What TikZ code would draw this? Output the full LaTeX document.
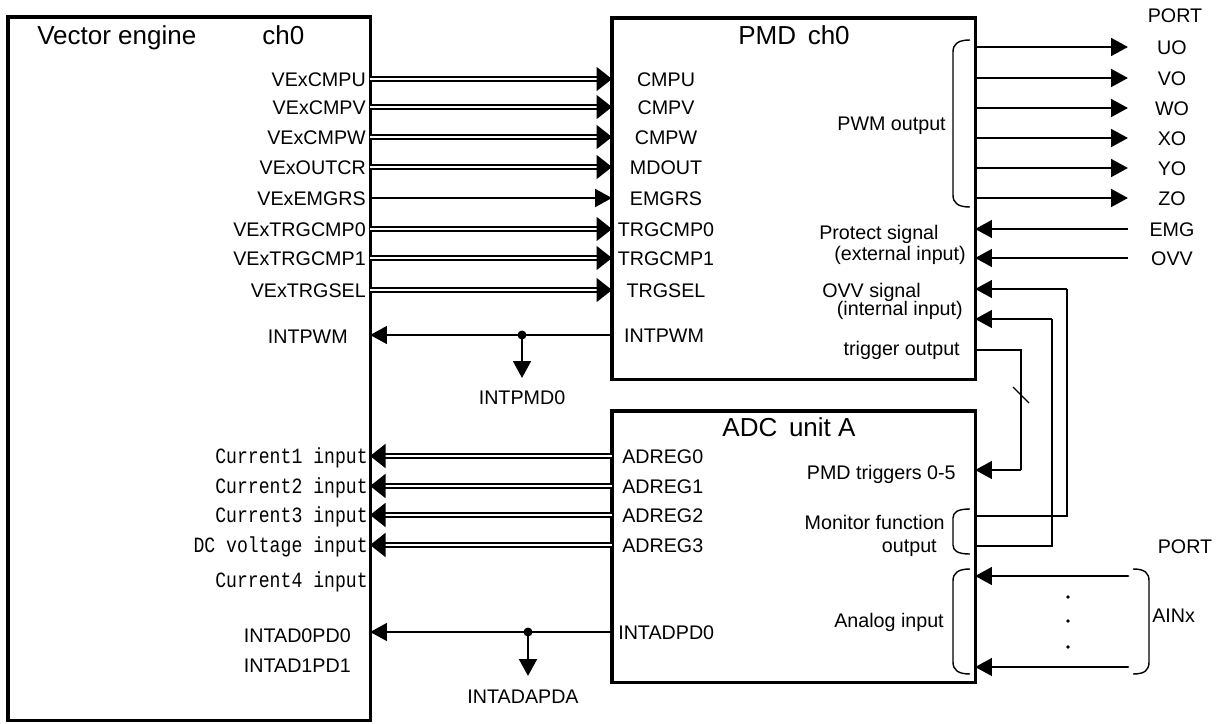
\documentclass[tikz,border=0pt]{standalone}
\usepackage{fontspec}
\setmainfont{Liberation Sans}
\setmonofont{Liberation Mono}
\usetikzlibrary{arrows.meta}

\tikzset{
  box/.style={draw,line width=2.2pt,inner sep=0pt,outer sep=0pt,anchor=north west},
  lbl/.style={inner sep=0pt,text height=10pt,text depth=0pt,font=\fontsize{14}{16}\selectfont},
  ttl/.style={inner sep=0pt,text height=13.2pt,text depth=0pt,font=\fontsize{18.5}{21}\selectfont},
  mono/.style={inner sep=0pt,text height=10.2pt,text depth=0pt,font=\ttfamily\fontsize{12.9}{15}\selectfont},
  wire/.style={line width=2pt,-{Triangle[length=12pt,width=12.5pt]}},
  bus/.style={line width=1.5pt,double,double distance=1.6pt,-{Triangle[length=11pt,width=17pt]}},
  thinl/.style={line width=0.9pt},
  brk/.style={line width=1pt}
}

\begin{document}
\begin{tikzpicture}[x=0.025cm,y=-0.025cm]
  \useasboundingbox (0,0) rectangle (1219,724);

  % blocks
  \node[box,minimum width=9.05cm,minimum height=17.575cm] (ve) at (8,17) {};
  \node[box,minimum width=9.075cm,minimum height=9.025cm] (pmd) at (612,18) {};
  \node[box,minimum width=9.075cm,minimum height=6.775cm] (adc) at (612,411) {};

  \node[ttl,anchor=west] (vet) at (37,35) {Vector engine};
  \node[ttl,anchor=west] (vech) at (262,35) {ch0};
  \node[ttl] (pmdt) at (794,35) {PMD\hspace{0.45em}ch0};
  \node[ttl] (adct) at (789,427) {ADC\hspace{0.45em}unit A};

  % vector engine -> PMD
  \foreach \y/\a/\b/\s [count=\i] in {79/VExCMPU/CMPU/bus,107/VExCMPV/CMPV/bus,
      137/VExCMPW/CMPW/bus,167/VExOUTCR/MDOUT/bus,198/VExEMGRS/EMGRS/wire,
      229/VExTRGCMP0/TRGCMP0/bus,258/VExTRGCMP1/TRGCMP1/bus,290/VExTRGSEL/TRGSEL/bus}{
    \node[lbl,anchor=east] (vo\i) at (366,\y) {\a};
    \node[lbl] (pi\i) at (666,\y) {\b};
    \draw[\s] (ve.east |- pi\i) -- (pmd.west |- pi\i);
  }

  \node[lbl,anchor=east] (vint) at (348,336) {INTPWM};
  \node[lbl] (pint) at (664,335) {INTPWM};
  \draw[wire] (pmd.west |- pint) -- (ve.east |- pint);
  \coordinate (j1) at (522,335);
  \coordinate (d1) at (522,378);
  \fill (j1) circle[radius=3.2pt];
  \draw[wire] (j1) -- (d1);
  \node[lbl] (intpmd) at (522,397) {INTPMD0};

  % PMD outputs
  \node[lbl] (port1) at (1175,15) {PORT};
  \foreach \y/\p [count=\i] in {47/UO,78/VO,108/WO,138/XO,168/YO,198/ZO}{
    \node[lbl] (po\i) at (1172,\y) {\p};
    \coordinate (pe\i) at (1128,\y);
    \draw[wire] (pmd.east |- pe\i) -- (pe\i);
  }
  \draw[brk] (970,40) .. controls (958,40) and (953,44) .. (953,52) -- (953,195)
    .. controls (953,203) and (958,207) .. (970,207);
  \node[lbl,anchor=east] (pwm) at (946,123) {PWM output};

  \node[lbl] (emg) at (1172,229) {EMG};
  \node[lbl] (ovv) at (1172,258) {OVV};
  \coordinate (emgc) at (1128,229);
  \coordinate (ovvc) at (1128,258);
  \draw[wire] (emgc) -- (pmd.east |- emgc);
  \draw[wire] (ovvc) -- (pmd.east |- ovvc);
  \node[lbl,anchor=west] (prot) at (819,232) {Protect signal};
  \node[lbl,anchor=east] (ext) at (966,253) {(external input)};
  \node[lbl,anchor=west] (ovvs) at (822,290) {OVV signal};
  \node[lbl,anchor=east] (intin) at (963,308) {(internal input)};
  \node[lbl,anchor=east] (trgo) at (960,348) {trigger output};

  % internal OVV and trigger
  \coordinate (ova) at (1067,289);
  \coordinate (ovb) at (1052,319);
  \coordinate (mona) at (adc.east |- 0,516);
  \coordinate (monb) at (adc.east |- 0,546);
  \draw[thinl] (ova) |- (mona);
  \draw[thinl] (ovb) |- (monb);
  \draw[wire] (ova) -- (pmd.east |- ova);
  \draw[wire] (ovb) -- (pmd.east |- ovb);

  \coordinate (tra) at (1021,350);
  \coordinate (trb) at (1021,470);
  \draw[thinl] (pmd.east |- tra) -- (tra) -- (trb);
  \draw[wire] (trb) -- (adc.east |- trb);
  \draw[thinl] (1013,387) -- (1029,403);

  % ADC -> vector engine
  \foreach \y/\a/\b [count=\i] in {456/Current1 input/ADREG0,486/Current2 input/ADREG1,
      515/Current3 input/ADREG2,545/DC voltage input/ADREG3}{
    \node[lbl,anchor=west] (ar\i) at (622,\y) {\b};
    \node[mono,anchor=east] (ci\i) at (368,\y) {\scalebox{1}[1.2]{\a}};
    \draw[bus] (adc.west |- ar\i) -- (ve.east |- ar\i);
  }
  \node[mono,anchor=east] (ci5) at (368,580) {\scalebox{1}[1.2]{Current4 input}};

  \node[lbl,anchor=east] (ia0) at (351,635) {INTAD0PD0};
  \node[lbl,anchor=east] (ia1) at (351,665) {INTAD1PD1};
  \node[lbl,anchor=west] (iadp) at (618,632) {INTADPD0};
  \draw[wire] (adc.west |- iadp) -- (ve.east |- iadp);
  \coordinate (j2) at (528,632);
  \coordinate (d2) at (528,676);
  \fill (j2) circle[radius=3.2pt];
  \draw[wire] (j2) -- (d2);
  \node[lbl] (intada) at (523,696) {INTADAPDA};

  % ADC right side
  \node[lbl,anchor=east] (pmdtrg) at (956,472) {PMD triggers 0-5};
  \node[lbl,anchor=east] (monf) at (945,522) {Monitor function};
  \node[lbl,anchor=east] (monout) at (937,545) {output};
  \draw[brk] (970,509) .. controls (958,509) and (953,512) .. (953,518) -- (953,545)
    .. controls (953,551) and (958,554) .. (970,554);
  \node[lbl,anchor=east] (ana) at (944,620) {Analog input};
  \draw[brk] (970,569) .. controls (958,569) and (953,573) .. (953,581) -- (953,662)
    .. controls (953,670) and (958,674) .. (970,674);

  \coordinate (ain1) at (1128,576);
  \coordinate (ain2) at (1128,667);
  \draw[wire,line cap=round] (ain1) -- (adc.east |- ain1);
  \draw[wire,line cap=round] (ain2) -- (adc.east |- ain2);
  \foreach \y in {597,621,647} \fill (1068,\y) circle[radius=1.4pt];
  \draw[brk] (1133,569) .. controls (1145,569) and (1149,573) .. (1149,581) -- (1149,662)
    .. controls (1149,670) and (1145,674) .. (1133,674);
  \node[lbl,anchor=west] (ainx) at (1152,615) {AINx};
  \node[lbl] (port2) at (1185,546) {PORT};
\end{tikzpicture}
\end{document}
